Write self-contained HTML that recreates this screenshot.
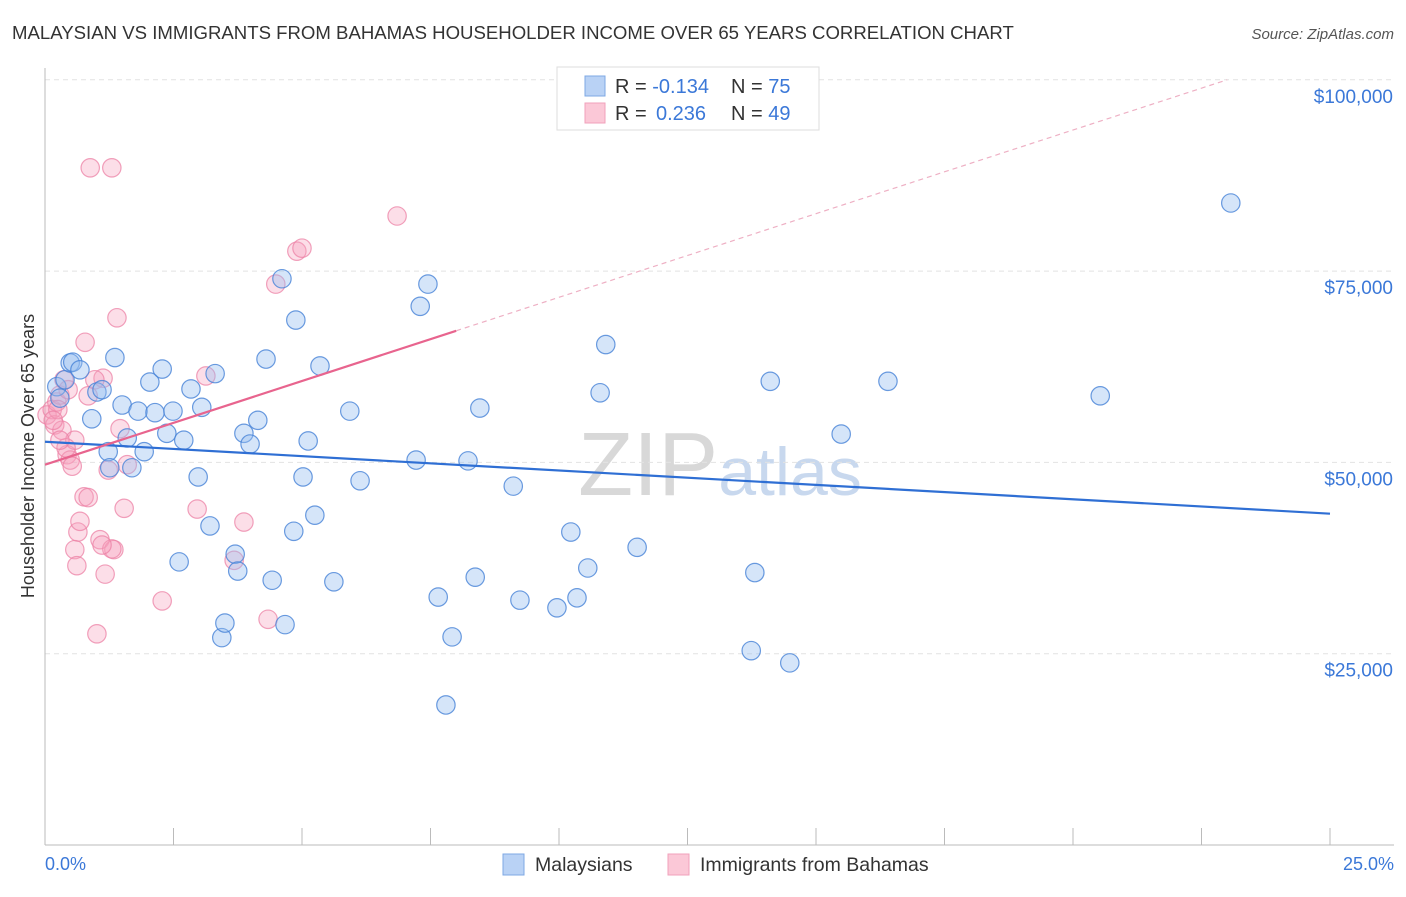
<!DOCTYPE html>
<html><head><meta charset="utf-8"><style>
body{margin:0;background:#fff;font-family:"Liberation Sans",sans-serif}
svg text{font-family:"Liberation Sans",sans-serif}
</style></head><body>
<svg id="c" width="1406" height="892">
<text x="12" y="39" font-size="18.6" fill="#333">MALAYSIAN VS IMMIGRANTS FROM BAHAMAS HOUSEHOLDER INCOME OVER 65 YEARS CORRELATION CHART</text>
<text x="1394" y="39" font-size="15" fill="#555" text-anchor="end" font-style="italic">Source: ZipAtlas.com</text>
<text x="720" y="495" font-size="90" fill="#d8d8d8" text-anchor="middle" font-family="Liberation Serif">ZIP<tspan font-family="Liberation Sans" font-size="68" fill="#c8d8ee">atlas</tspan></text>
<g id="grid"></g><g id="axes"></g><g id="marks"></g>
<text transform="translate(34,456) rotate(-90)" font-size="18" fill="#333" text-anchor="middle">Householder Income Over 65 years</text>
<text x="45" y="870" font-size="18" fill="#3b78d8">0.0%</text>
<text x="1394" y="870" font-size="18" fill="#3b78d8" text-anchor="end">25.0%</text>
<g>
<rect x="557" y="67" width="262" height="63" fill="#fff" stroke="#ddd"/>
<rect x="585" y="76" width="20" height="20" fill="#b9d2f5" stroke="#7ea8e4"/>
<rect x="585" y="103" width="20" height="20" fill="#fbc8d7" stroke="#f0a1bb"/>
<text x="615" y="93" font-size="20" fill="#333">R = <tspan fill="#3b78d8">-0.134</tspan><tspan x="731">N = </tspan><tspan fill="#3b78d8">75</tspan></text>
<text x="615" y="120" font-size="20" fill="#333">R = <tspan fill="#3b78d8" x="656">0.236</tspan><tspan x="731">N = </tspan><tspan fill="#3b78d8">49</tspan></text>
</g>
<g>
<rect x="503" y="854" width="21" height="21" fill="#b9d2f5" stroke="#7ea8e4"/>
<text x="535" y="871" font-size="19.5" fill="#333">Malaysians</text>
<rect x="668" y="854" width="21" height="21" fill="#fbc8d7" stroke="#f0a1bb"/>
<text x="700" y="871" font-size="19.5" fill="#333">Immigrants from Bahamas</text>
</g>
</svg>
<script>
const yTicks=[25000,50000,75000,100000];
const yTickLabels=["$25,000","$50,000","$75,000","$100,000"];
const xTicks=[0,2.5,5,7.5,10,12.5,15,17.5,20,22.5,25];
const blueX=[0.23,0.29,0.39,0.49,0.54,0.68,0.91,1.01,1.11,1.36,1.23,1.26,1.50,1.60,1.69,1.81,1.93,2.04,2.14,2.28,2.37,2.49,2.61,2.70,2.84,2.98,3.05,3.21,3.31,3.44,3.50,3.70,3.75,3.87,3.99,4.14,4.30,4.42,4.61,4.67,4.84,4.88,5.02,5.12,5.25,5.35,5.62,5.93,6.13,7.22,7.30,7.45,7.65,7.80,7.92,8.23,8.37,8.46,9.11,9.24,9.96,10.23,10.35,10.56,10.80,10.91,11.52,13.74,13.81,14.11,14.49,15.49,16.40,20.53,23.07];
const blueY=[59.9,58.4,60.8,63.0,63.1,62.1,55.7,59.2,59.5,63.7,51.4,49.3,57.5,53.2,49.3,56.7,51.4,60.5,56.5,62.2,53.8,56.7,37.0,52.9,59.6,48.1,57.2,41.7,61.6,27.1,29.0,38.0,35.8,53.8,52.4,55.5,63.5,34.6,74.0,28.8,41.0,68.6,48.1,52.8,43.1,62.6,34.4,56.7,47.6,50.3,70.4,73.3,32.4,18.3,27.2,50.2,35.0,57.1,46.9,32.0,31.0,40.9,32.3,36.2,59.1,65.4,38.9,25.4,35.6,60.6,23.8,53.7,60.6,58.7,83.9];
const pinkX=[0.04,0.14,0.19,0.23,0.29,0.33,0.37,0.43,0.49,0.53,0.58,0.64,0.68,0.58,0.62,0.76,0.84,0.78,0.88,1.01,1.07,1.13,1.17,1.23,1.30,1.34,1.40,1.46,1.54,1.60,2.28,2.96,3.13,3.68,3.87,4.34,4.49,4.90,5.00,6.85,0.25,0.41,0.16,0.45,0.84,0.97,1.30,1.11,0.29];
const pinkY=[56.2,56.9,54.9,57.9,58.8,54.2,60.8,51.0,50.3,49.5,52.9,40.9,42.3,38.6,36.5,45.5,45.4,65.7,88.5,27.6,39.9,61.0,35.4,49.0,88.5,38.6,68.9,54.4,44.0,49.7,31.9,43.9,61.3,37.2,42.2,29.5,73.3,77.6,78.0,82.2,56.9,51.9,55.5,59.5,58.7,60.8,38.7,39.2,52.9];
const blueTrend=[[0,52.7],[25,43.3]];
const pinkTrend=[[0,49.7],[8.0,67.2]];
const pinkTrendExt=[[8.0,67.2],[23.0,100]];

const NS="http://www.w3.org/2000/svg";
const X=v=>45+v/25*1285;
const Y=v=>845-v/25000*191.3;
const Yk=v=>Y(v*1000);
function el(tag,attrs,parent){const e=document.createElementNS(NS,tag);for(const k in attrs)e.setAttribute(k,attrs[k]);document.getElementById(parent).appendChild(e);return e;}
yTicks.forEach((t,i)=>{
  const g=el('line',{x1:45,x2:1394,y1:Y(t),y2:Y(t),stroke:'#e2e2e2','stroke-dasharray':'5,4'},'grid');
  
  
  const tx=el('text',{x:1393,y:Y(t)+23,'font-size':19,fill:'#3b78d8','text-anchor':'end'},'axes');
  tx.textContent=yTickLabels[i];
  
  
});
const ax=el('line',{x1:45,x2:45,y1:68,y2:845,stroke:'#bbb'},'axes');


const bx=el('line',{x1:45,x2:1394,y1:845,y2:845,stroke:'#bbb'},'axes');


xTicks.forEach(t=>{
  const l=el('line',{x1:X(t),x2:X(t),y1:828,y2:845,stroke:'#bbb'},'axes');
  
  
});
pinkX.forEach((x,i)=>{
  const c=el('circle',{cx:X(x),cy:Yk(pinkY[i]),r:9.2,fill:'rgba(245,160,188,0.35)',stroke:'rgba(236,130,165,0.75)','stroke-width':1.2},'marks');
  
  
});
blueX.forEach((x,i)=>{
  const c=el('circle',{cx:X(x),cy:Yk(blueY[i]),r:9.2,fill:'rgba(150,190,240,0.4)',stroke:'rgba(70,130,215,0.8)','stroke-width':1.2},'marks');
  
  
});
const bt=el('line',{x1:X(blueTrend[0][0]),y1:Yk(blueTrend[0][1]),x2:X(blueTrend[1][0]),y2:Yk(blueTrend[1][1]),stroke:'#2f6fd4','stroke-width':2.2},'marks');


const pt=el('line',{x1:X(pinkTrend[0][0]),y1:Yk(pinkTrend[0][1]),x2:X(pinkTrend[1][0]),y2:Yk(pinkTrend[1][1]),stroke:'#e8648e','stroke-width':2.2},'marks');


const pe=el('line',{x1:X(pinkTrendExt[0][0]),y1:Yk(pinkTrendExt[0][1]),x2:X(pinkTrendExt[1][0]),y2:Yk(pinkTrendExt[1][1]),stroke:'#eeb0c4','stroke-width':1.2,'stroke-dasharray':'5,4'},'marks');


</script>
</body></html>
